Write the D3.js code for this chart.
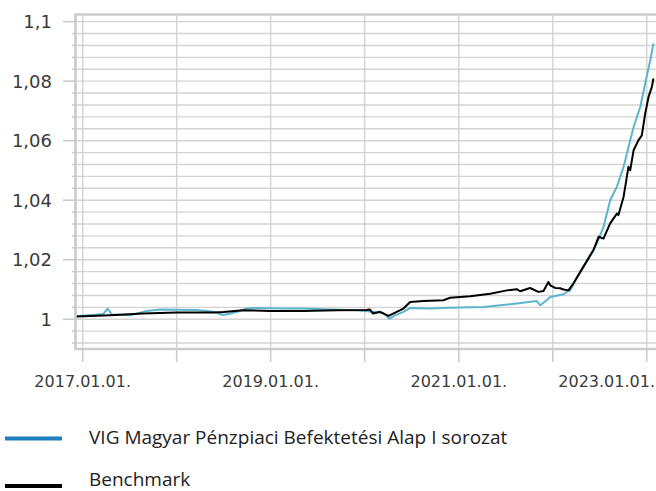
<!DOCTYPE html>
<html>
<head>
<meta charset="utf-8">
<script src="https://cdn.jsdelivr.net/npm/d3@7"></script>
<style>
  body { margin: 0; background: #fff; }
  svg { display: block; }
</style>
</head>
<body>
<svg id="chart" width="656" height="491"></svg>
<script>

// Fund series (VIG Magyar Pénzpiaci Befektetési Alap I sorozat)
var fundDates = [
  "2016-12-09", "2017-03-22", "2017-04-08", "2017-04-24", "2017-07-04", "2017-09-07",
  "2017-10-28", "2018-03-20", "2018-05-23", "2018-07-01", "2018-08-22", "2018-09-30",
  "2018-11-08", "2019-02-20", "2019-05-07", "2019-08-20", "2019-12-01", "2020-01-02",
  "2020-03-13", "2020-04-07", "2020-04-28", "2020-05-31", "2020-06-26", "2020-09-12",
  "2020-11-28", "2021-04-07", "2021-08-14", "2021-10-31", "2021-11-13", "2021-11-26",
  "2021-12-22", "2022-02-12", "2022-02-25", "2022-03-10", "2022-04-05", "2022-05-14",
  "2022-06-21", "2022-07-17", "2022-08-12", "2022-09-07", "2022-10-03", "2022-10-29",
  "2022-11-11", "2022-12-07", "2022-12-26", "2023-01-15", "2023-01-27"
];
var fundValues = [
  1.0010, 1.0018, 1.0036, 1.0016, 1.0013, 1.0028,
  1.0033, 1.0031, 1.0025, 1.0014, 1.0024, 1.0036,
  1.0038, 1.0036, 1.0036, 1.0033, 1.0030, 1.0028,
  1.0021, 1.0002, 1.0013, 1.0025, 1.0038, 1.0036,
  1.0039, 1.0041, 1.0053, 1.0061, 1.0047, 1.0055,
  1.0075, 1.0084, 1.0092, 1.0096, 1.0142, 1.0198,
  1.0254, 1.0310, 1.0400, 1.0445, 1.0512, 1.0602,
  1.0646, 1.0714, 1.0792, 1.0871, 1.0927
];

// Benchmark series
var benchDates = [
  "2016-12-09", "2017-04-17", "2017-08-24", "2018-01-01", "2018-05-23", "2018-07-01",
  "2018-09-17", "2018-12-30", "2019-05-07", "2019-09-15", "2020-01-09", "2020-01-21",
  "2020-02-03", "2020-03-01", "2020-04-03", "2020-05-31", "2020-06-26", "2020-08-17",
  "2020-11-02", "2020-11-28", "2021-02-14", "2021-05-03", "2021-07-07", "2021-08-14",
  "2021-08-27", "2021-10-05", "2021-11-06", "2021-11-26", "2021-12-15", "2021-12-22",
  "2022-01-10", "2022-01-30", "2022-02-12", "2022-03-03", "2022-03-22", "2022-04-30",
  "2022-06-08", "2022-06-28", "2022-07-17", "2022-08-12", "2022-09-07", "2022-09-13",
  "2022-10-03", "2022-10-22", "2022-10-29", "2022-11-11", "2022-11-30", "2022-12-13",
  "2022-12-26", "2023-01-08", "2023-01-21", "2023-01-27"
];
var benchValues = [
  1.0009, 1.0013, 1.0019, 1.0023, 1.0023, 1.0024,
  1.0030, 1.0028, 1.0028, 1.0030, 1.0031, 1.0033,
  1.0019, 1.0025, 1.0011, 1.0036, 1.0058, 1.0061,
  1.0064, 1.0072, 1.0077, 1.0086, 1.0097, 1.0101,
  1.0094, 1.0105, 1.0092, 1.0095, 1.0125, 1.0114,
  1.0105, 1.0104, 1.0100, 1.0097, 1.0120, 1.0176,
  1.0232, 1.0277, 1.0271, 1.0322, 1.0355, 1.0350,
  1.0411, 1.0512, 1.0501, 1.0568, 1.0602, 1.0618,
  1.0691, 1.0747, 1.0781, 1.0809
];

var yMajorTicks = [1, 1.02, 1.04, 1.06, 1.08, 1.1];
var yTickLabels = ["1", "1,02", "1,04", "1,06", "1,08", "1,1"];
var xYearTicks = ["2017-01-01", "2018-01-01", "2019-01-01", "2020-01-01",
                  "2021-01-01", "2022-01-01", "2023-01-01"];
var xTickLabels = ["2017.01.01.", "", "2019.01.01.", "", "2021.01.01.", "", "2023.01.01."];

var legendNames = ["VIG Magyar Pénzpiaci Befektetési Alap I sorozat", "Benchmark"];

var svg = d3.select("#chart"),
    width = +svg.attr("width"),
    height = +svg.attr("height");

var parse = d3.timeParse("%Y-%m-%d");

var plotLeft = 75.5, plotRight = 656, plotTop = 14.5, plotBottom = 349;

var x = d3.scaleTime()
    .domain([parse("2016-12-04"), parse("2023-02-06")])
    .range([plotLeft, plotRight]);

var y = d3.scaleLinear()
    .domain([0.99, 1.1024])
    .range([plotBottom, plotTop]);

var gridColor = "#d3d3d3",
    frameColor = "#cbcbcb",
    fundColor = "#5bb5cf",
    fundLegendColor = "#1f7fc0",
    textColor = "#3a3a3a";

// Minor + major horizontal gridlines (every 0.004)
var minorValues = d3.range(0, 28).map(function(i) { return +(0.992 + i * 0.004).toFixed(3); });

svg.append("g")
  .selectAll("line")
  .data(minorValues)
  .enter().append("line")
    .attr("x1", plotLeft)
    .attr("x2", plotRight)
    .attr("y1", function(d) { return y(d); })
    .attr("y2", function(d) { return y(d); })
    .attr("stroke", gridColor)
    .attr("stroke-width", 1.4);

// Vertical year gridlines
svg.append("g")
  .selectAll("line")
  .data(xYearTicks)
  .enter().append("line")
    .attr("x1", function(d) { return x(parse(d)); })
    .attr("x2", function(d) { return x(parse(d)); })
    .attr("y1", plotTop)
    .attr("y2", plotBottom)
    .attr("stroke", gridColor)
    .attr("stroke-width", 1.4);

// Frame: left, top, bottom
svg.append("path")
    .attr("d", "M" + plotRight + "," + plotTop + "H" + plotLeft + "V" + plotBottom + "H" + plotRight)
    .attr("fill", "none")
    .attr("stroke", frameColor)
    .attr("stroke-width", 2.6);

// Y axis tick marks
svg.append("g")
  .selectAll("line")
  .data(minorValues)
  .enter().append("line")
    .attr("x1", function(d) {
      var isMajor = yMajorTicks.some(function(m) { return Math.abs(m - d) < 1e-6; });
      return isMajor ? 63 : 72;
    })
    .attr("x2", plotLeft)
    .attr("y1", function(d) { return y(d); })
    .attr("y2", function(d) { return y(d); })
    .attr("stroke", frameColor)
    .attr("stroke-width", 1.6);

svg.append("g")
  .selectAll("text")
  .data(yMajorTicks)
  .enter().append("text")
    .attr("x", 52)
    .attr("y", function(d) { return y(d); })
    .attr("dy", "0.36em")
    .attr("text-anchor", "end")
    .attr("font-family", "DejaVu Sans")
    .attr("font-size", 18)
    .attr("fill", textColor)
    .text(function(d, i) { return yTickLabels[i]; });

// X axis tick marks + labels
svg.append("g")
  .selectAll("line")
  .data(xYearTicks)
  .enter().append("line")
    .attr("x1", function(d) { return x(parse(d)); })
    .attr("x2", function(d) { return x(parse(d)); })
    .attr("y1", plotBottom)
    .attr("y2", 362)
    .attr("stroke", frameColor)
    .attr("stroke-width", 1.6);

svg.append("g")
  .selectAll("text")
  .data(xYearTicks)
  .enter().append("text")
    .attr("y", 387)
    .attr("text-anchor", "middle")
    .attr("font-family", "DejaVu Sans")
    .attr("font-size", 16)
    .attr("fill", textColor)
    .text(function(d, i) { return xTickLabels[i]; })
    .attr("x", function(d) {
      // keep labels inside the right edge (shifted left like the original)
      var w = this.getComputedTextLength();
      return Math.min(x(parse(d)), width - 1 - w / 2);
    });

// Series lines
function toPoints(dates, values) {
  return dates.map(function(d, i) { return {date: parse(d), value: values[i]}; });
}

var line = d3.line()
    .x(function(d) { return x(d.date); })
    .y(function(d) { return y(d.value); });

svg.append("path")
    .datum(toPoints(fundDates, fundValues))
    .attr("d", line)
    .attr("fill", "none")
    .attr("stroke", fundColor)
    .attr("stroke-width", 2)
    .attr("stroke-linejoin", "round");

svg.append("path")
    .datum(toPoints(benchDates, benchValues))
    .attr("d", line)
    .attr("fill", "none")
    .attr("stroke", "#000")
    .attr("stroke-width", 2)
    .attr("stroke-linejoin", "round");

// Legend
var legend = svg.append("g")
  .selectAll("g")
  .data(legendNames)
  .enter().append("g")
    .attr("transform", function(d, i) { return "translate(0," + (438.5 + i * 47.5) + ")"; });

legend.append("line")
    .attr("x1", 5)
    .attr("x2", 62)
    .attr("stroke", function(d, i) { return i === 0 ? fundLegendColor : "#000"; })
    .attr("stroke-width", 4);

legend.append("text")
    .attr("x", 89)
    .attr("y", function(d, i) { return i === 0 ? 5 : 0; })
    .attr("font-family", "Open Sans")
    .attr("font-size", 19)
    .attr("fill", "#222")
    .text(function(d) { return d; });

</script>
</body>
</html>
